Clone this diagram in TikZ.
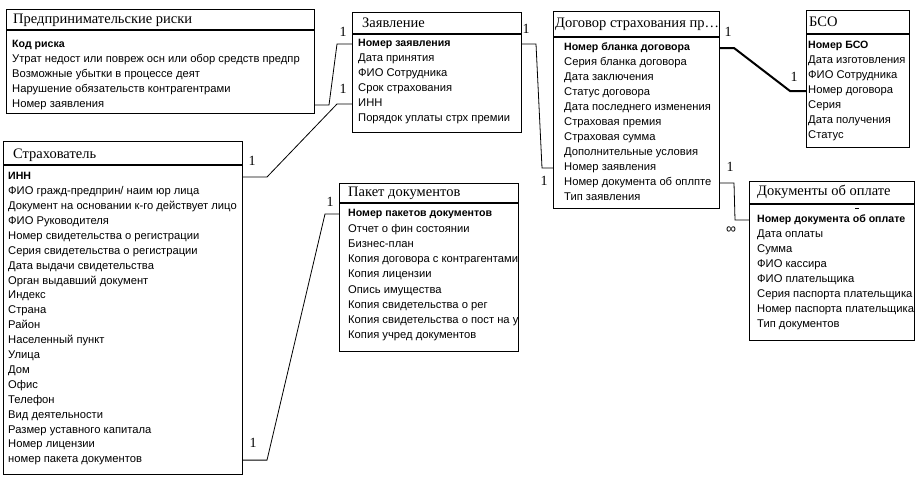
\documentclass[tikz,border=0pt]{standalone}
\usepackage{fontspec}
\setmainfont{Liberation Serif}
\newfontfamily\fieldfont{Liberation Sans}
\usetikzlibrary{calc}
\tikzset{
  tbl/.style={draw, line width=1pt, anchor=north west, inner sep=0pt},
  ttl/.style={anchor=west, inner sep=0pt, text height=10, text depth=3, font=\fontsize{14.5}{16}\selectfont},
  fld/.style={anchor=west, inner sep=0pt, text height=8, text depth=2.5, font=\fieldfont\fontsize{11.2}{13}\selectfont},
  keyfld/.style={fld, font=\fieldfont\bfseries\fontsize{10.6}{13}\selectfont},
  sep/.style={line width=2pt},
  lnk/.style={line width=0.8pt},
  card/.style={inner sep=0pt, font=\fontsize{14}{16}\selectfont}
}
\begin{document}
\begin{tikzpicture}[x=1pt, y=-1pt]
\useasboundingbox (0,0) rectangle (923,477);

% Предпринимательские риски
\node[tbl, minimum width=308, minimum height=104] (risk) at (6,9) {};
\draw[sep] (risk.west |- 0,30) -- (risk.east |- 0,30);
\node[ttl] (risk-t) at (13,20) {Предпринимательские риски};
\node[keyfld] (risk-0) at (12,45) {Код риска};
\foreach \f [count=\i] in {Утрат недост или повреж осн или обор средств предпр,
  Возможные убытки в процессе деят, Нарушение обязательств контрагентрами, Номер заявления}
  \node[fld] (risk-\i) at (12,{45+15*\i}) {\f};

% Заявление
\node[tbl, minimum width=169, minimum height=120] (zay) at (352,12) {};
\draw[sep] (zay.west |- 0,34) -- (zay.east |- 0,34);
\node[ttl] (zay-t) at (362,24) {Заявление};
\node[keyfld] (zay-0) at (358,44) {Номер заявления};
\foreach \f [count=\i] in {Дата принятия, ФИО Сотрудника, Срок страхования, ИНН,
  Порядок уплаты стрх премии}
  \node[fld] (zay-\i) at (358,{44+15*\i}) {\f};

% Договор страхования
\node[tbl, minimum width=166, minimum height=197] (dog) at (553,11) {};
\draw[sep] (dog.west |- 0,37) -- (dog.east |- 0,37);
\node[ttl] (dog-t) at (555,24) {Договор страхования пр…};
\node[keyfld] (dog-0) at (564,48) {Номер бланка договора};
\foreach \f [count=\i] in {Серия бланка договора, Дата заключения, Статус договора,
  Дата последнего изменения, Страховая премия, Страховая сумма, Дополнительные условия,
  Номер заявления, Номер документа об оплпте, Тип заявления}
  \node[fld] (dog-\i) at (564,{48+15*\i}) {\f};

% БСО
\node[tbl, minimum width=103, minimum height=137] (bso) at (806,10) {};
\draw[sep] (bso.west |- 0,34) -- (bso.east |- 0,34);
\node[ttl] (bso-t) at (809,23) {БСО};
\node[keyfld] (bso-0) at (808,46) {Номер БСО};
\foreach \f [count=\i] in {Дата изготовления, ФИО Сотрудника, Номер договора, Серия,
  Дата получения, Статус}
  \node[fld] (bso-\i) at (808,{46+15*\i}) {\f};

% Страхователь
\node[tbl, minimum width=239, minimum height=333] (ins) at (3,141) {};
\draw[sep] (ins.west |- 0,165) -- (ins.east |- 0,165);
\node[ttl] (ins-t) at (13,155) {Страхователь};
\node[keyfld] (ins-0) at (8,177) {ИНН};
\foreach \f [count=\i] in {ФИО гражд-предприн/ наим юр лица,
  Документ на основании к-го действует лицо, ФИО Руководителя,
  Номер свидетельства о регистрации, Серия свидетельства о регистрации,
  Дата выдачи свидетельства, Орган выдавший документ, Индекс, Страна, Район,
  Населенный пункт, Улица, Дом, Офис, Телефон, Вид деятельности,
  Размер уставного капитала, Номер лицензии, номер пакета документов}
  \node[fld] (ins-\i) at (8,{177+14.9*\i}) {\f};

% Пакет документов
\node[tbl, minimum width=179, minimum height=168] (pak) at (339,183) {};
\draw[sep] (pak.west |- 0,203) -- (pak.east |- 0,203);
\node[ttl] (pak-t) at (348,193) {Пакет документов};
\begin{scope}
\clip (pak.north west) rectangle (pak.south east);
\node[keyfld] (pak-0) at (348,214) {Номер пакетов документов};
\foreach \f [count=\i] in {Отчет о фин состоянии, Бизнес-план,
  Копия договора с контрагентами, Копия лицензии, Опись имущества,
  Копия свидетельства о рег, Копия свидетельства о пост на у, Копия учред документов}
  \node[fld] (pak-\i) at (348,{214+15.25*\i}) {\f};
\end{scope}

% Документы об оплате
\node[tbl, minimum width=165, minimum height=159] (doc) at (749,181) {};
\draw[sep] (doc.west |- 0,204) -- (doc.east |- 0,204);
\draw (855,208) -- (859,208);
\node[ttl] (doc-t) at (757,192) {Документы об оплате};
\node[keyfld] (doc-0) at (757,220) {Номер документа об оплате};
\foreach \f [count=\i] in {Дата оплаты, Сумма, ФИО кассира, ФИО плательщика,
  Серия паспорта плательщика, Номер паспорта плательщика, Тип документов}
  \node[fld] (doc-\i) at (757,{220+15*\i}) {\f};

% связи
\draw[lnk] (risk.east |- risk-4) -- ++(14,0) -- ($(zay.west |- zay-0)+(-15,0)$) -- (zay.west |- zay-0);
\draw[lnk] (ins.east |- ins-0) -- ++(24,0) -- ($(zay.west |- zay-4)+(-15,0)$) -- (zay.west |- zay-4);
\draw[lnk] (ins.east |- ins-19) -- ++(24,0) -- ($(pak.west |- pak-0)+(-14,0)$) -- (pak.west |- pak-0);
\draw[lnk] (zay.east |- zay-0) -- ++(14,0) -- ($(dog.west |- dog-8)+(-11,0)$) -- (dog.west |- dog-8);
\draw[line width=2pt] (dog.east |- dog-0) -- ++(14,0) -- ($(bso.west |- bso-3)+(-16,0)$) -- (bso.west |- bso-3);
\draw[lnk] (dog.east |- dog-9) -- ++(14,0) -- ($(doc.west |- doc-0)+(-14,0)$) -- (doc.west |- doc-0);

\node[card] (n1) at (343,32) {1};
\node[card] (n2) at (343,89) {1};
\node[card] (n3) at (252,161) {1};
\node[card] (n4) at (253,443) {1};
\node[card] (n5) at (330,202) {1};
\node[card] (n6) at (526,29) {1};
\node[card] (n7) at (544,181) {1};
\node[card] (n8) at (728,32) {1};
\node[card] (n9) at (794,77) {1};
\node[card] (n10) at (730,167) {1};
\node[fld, font=\fieldfont\fontsize{14}{16}\selectfont] (n11) at (726,231) {∞};
\end{tikzpicture}
\end{document}
